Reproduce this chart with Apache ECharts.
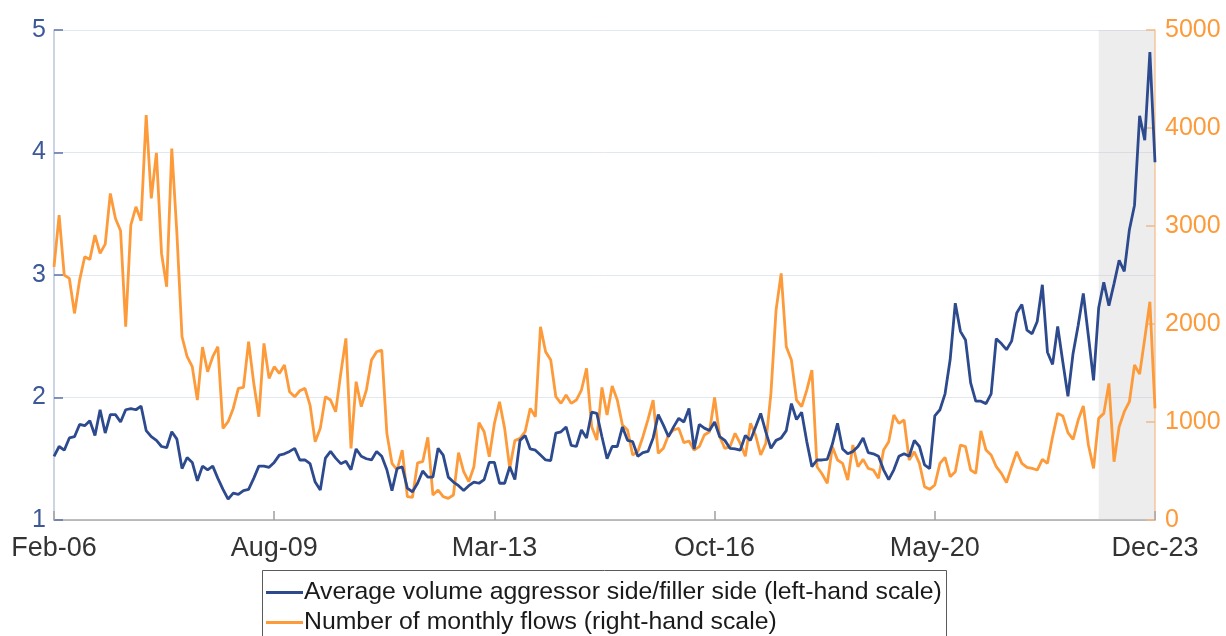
<!DOCTYPE html>
<html>
<head>
<meta charset="utf-8">
<script src="https://cdn.jsdelivr.net/npm/echarts@6/dist/echarts.min.js"></script>
<style>
  html, body { margin: 0; padding: 0; background: #ffffff; }
  #chart { width: 1226px; height: 636px; }
</style>
</head>
<body>
<div id="chart"></div>
<script>
// Monthly observations, Jan 2006 - Dec 2023
const monthNames = ['Jan','Feb','Mar','Apr','May','Jun','Jul','Aug','Sep','Oct','Nov','Dec'];
const months = [];
for (let y = 2006; y <= 2023; y++) {
  for (let m = 0; m < 12; m++) {
    months.push(monthNames[m] + '-' + String(y % 100).padStart(2, '0'));
  }
}

// Tick labels drawn along the x axis, one every 43 months
const tickLabels = ['Feb-06', 'Aug-09', 'Mar-13', 'Oct-16', 'May-20', 'Dec-23'];
const tickStep = 43;

// Average volume aggressor side / filler side (left-hand scale)
const volumeRatio = [
  1.52, 1.60, 1.57, 1.67, 1.68, 1.78, 1.77, 1.81, 1.69, 1.90,
  1.71, 1.86, 1.86, 1.80, 1.90, 1.91, 1.90, 1.93, 1.73, 1.68,
  1.65, 1.60, 1.59, 1.72, 1.66, 1.42, 1.51, 1.47, 1.32, 1.44,
  1.41, 1.44, 1.34, 1.25, 1.17, 1.22, 1.21, 1.24, 1.25, 1.34,
  1.44, 1.44, 1.43, 1.47, 1.53, 1.54, 1.56, 1.585, 1.49, 1.49,
  1.46, 1.31, 1.245, 1.505, 1.56, 1.505, 1.46, 1.48, 1.41, 1.58,
  1.52, 1.50, 1.49, 1.56, 1.52, 1.41, 1.24, 1.42, 1.435, 1.26,
  1.23, 1.30, 1.40, 1.35, 1.35, 1.585, 1.53, 1.35, 1.31, 1.28,
  1.24, 1.28, 1.31, 1.30, 1.33, 1.47, 1.47, 1.30, 1.30, 1.435,
  1.33, 1.65, 1.69, 1.58, 1.57, 1.53, 1.49, 1.485, 1.71, 1.72,
  1.76, 1.61, 1.60, 1.735, 1.67, 1.88, 1.87, 1.68, 1.50, 1.60,
  1.60, 1.76, 1.65, 1.64, 1.52, 1.55, 1.56, 1.67, 1.86, 1.775,
  1.68, 1.76, 1.83, 1.80, 1.91, 1.58, 1.78, 1.75, 1.73, 1.80,
  1.68, 1.65, 1.585, 1.58, 1.57, 1.69, 1.65, 1.76, 1.87, 1.72,
  1.585, 1.65, 1.67, 1.73, 1.95, 1.82, 1.88, 1.64, 1.435, 1.49,
  1.49, 1.495, 1.62, 1.79, 1.58, 1.54, 1.56, 1.60, 1.67, 1.55,
  1.54, 1.52, 1.41, 1.33, 1.41, 1.52, 1.54, 1.52, 1.65, 1.60,
  1.45, 1.42, 1.85, 1.90, 2.03, 2.31, 2.77, 2.54, 2.47, 2.12,
  1.97, 1.97, 1.95, 2.03, 2.48, 2.44, 2.39, 2.46, 2.69, 2.76,
  2.55, 2.52, 2.62, 2.92, 2.37, 2.27, 2.58, 2.29, 2.01, 2.36,
  2.59, 2.85, 2.50, 2.14, 2.73, 2.94, 2.75, 2.93, 3.12, 3.03,
  3.37, 3.57, 4.30, 4.10, 4.82, 3.92
];

// Number of monthly flows (right-hand scale)
const monthlyFlows = [
  2584, 3111, 2499, 2465, 2108, 2448, 2686, 2659, 2907, 2720,
  2815, 3332, 3077, 2951, 1972, 3009, 3196, 3053, 4131, 3281,
  3747, 2720, 2380, 3791, 2924, 1870, 1666, 1564, 1224, 1765,
  1513, 1666, 1768, 935, 1003, 1139, 1343, 1353, 1819, 1400,
  1054, 1802, 1445, 1564, 1496, 1581, 1309, 1258, 1319, 1343,
  1173, 799, 935, 1258, 1224, 1105, 1496, 1853, 731, 1411,
  1156, 1326, 1632, 1717, 1734, 884, 578, 510, 714, 238,
  231, 584, 595, 843, 255, 306, 238, 221, 255, 687,
  493, 391, 544, 993, 901, 646, 986, 1207, 935, 527,
  810, 833, 901, 1139, 1054, 1972, 1717, 1632, 1258, 1190,
  1275, 1190, 1224, 1326, 1547, 952, 816, 1353, 1071, 1367,
  1224, 969, 918, 663, 697, 850, 1027, 1224, 680, 731,
  867, 920, 935, 789, 806, 714, 748, 867, 901, 1250,
  850, 731, 748, 884, 782, 650, 986, 867, 663, 782,
  1292, 2142, 2516, 1768, 1632, 1224, 1156, 1326, 1530, 544,
  469, 374, 748, 612, 578, 408, 765, 544, 619, 527,
  510, 425, 714, 799, 1071, 986, 1020, 612, 697, 578,
  340, 313, 357, 578, 639, 442, 493, 765, 748, 510,
  476, 910, 714, 663, 544, 476, 381, 544, 697, 578,
  537, 527, 510, 619, 578, 850, 1088, 1061, 891, 823,
  1020, 1163, 765, 527, 1037, 1088, 1394, 595, 952, 1105,
  1207, 1581, 1489, 1853, 2227, 1139
];

// Shaded period
const shadeStart = 'Jan-23';
const shadeEnd = 'Dec-23';

const seriesNames = [
  'Average volume aggressor side/filler side (left-hand scale)',
  'Number of monthly flows (right-hand scale)'
];

const BLUE = '#2c4a8d';
const ORANGE = '#fd9a3a';
const FONT = 'Liberation Sans, Arial, sans-serif';

const chart = echarts.init(document.getElementById('chart'), null, { renderer: 'canvas' });

const showTick = (idx) => idx % tickStep === 0;

// one legend block per row so the rows stack inside a single framed box
const legendRow = (name, top) => ({
  data: [name],
  orient: 'horizontal',
  left: 266,
  top: top,
  padding: 0,
  itemWidth: 37,
  itemHeight: 3,
  icon: 'rect',
  textStyle: { fontFamily: FONT, fontSize: 24.8, color: '#1a1a1a', padding: [0, 0, 0, -4] }
});

chart.setOption({
  animation: false,
  backgroundColor: '#ffffff',
  textStyle: { fontFamily: FONT },
  grid: { left: 54, right: 71, top: 30, bottom: 116, containLabel: false },
  legend: [
    legendRow(seriesNames[0], 580),
    legendRow(seriesNames[1], 610)
  ],
  graphic: [
    {
      type: 'rect',
      silent: true,
      shape: { x: 262.5, y: 570.5, width: 684, height: 90 },
      style: { fill: 'none', stroke: '#5a5a5a', lineWidth: 1 }
    }
  ],
  xAxis: {
    type: 'category',
    data: months,
    boundaryGap: false,
    axisLine: { show: true, lineStyle: { color: '#a9a9a9', width: 1.5 } },
    axisTick: { show: true, inside: true, length: 9, interval: (idx) => showTick(idx), lineStyle: { color: '#a0a0a0', width: 1.5 } },
    axisLabel: {
      interval: (idx) => showTick(idx),
      formatter: (value, idx) => tickLabels[Math.round(idx / tickStep)],
      fontFamily: FONT, fontSize: 27, color: '#333333', margin: 15
    },
    splitLine: { show: false }
  },
  yAxis: [
    {
      type: 'value',
      min: 1, max: 5, interval: 1,
      position: 'left',
      axisLine: { show: true, lineStyle: { color: '#bcc6de', width: 1.5 } },
      axisTick: { show: true, inside: true, length: 9, lineStyle: { color: '#5b73a8', width: 1.5 } },
      axisLabel: { fontFamily: FONT, fontSize: 25, color: '#3d5897', margin: 8 },
      splitLine: { show: true, lineStyle: { color: '#e3e7f0', width: 1 } }
    },
    {
      type: 'value',
      min: 0, max: 5000, interval: 1000,
      position: 'right',
      axisLine: { show: true, lineStyle: { color: '#fcc896', width: 1.5 } },
      axisTick: { show: true, inside: true, length: 9, lineStyle: { color: '#fcb878', width: 1.5 } },
      axisLabel: { fontFamily: FONT, fontSize: 25, color: '#fd9a3a', margin: 10, formatter: (v) => String(v) },
      splitLine: { show: false }
    }
  ],
  series: [
    {
      name: seriesNames[0],
      type: 'line',
      yAxisIndex: 0,
      data: volumeRatio,
      symbol: 'none',
      lineStyle: { color: BLUE, width: 2.8 },
      itemStyle: { color: BLUE },
      z: 3
    },
    {
      name: seriesNames[1],
      type: 'line',
      yAxisIndex: 1,
      data: monthlyFlows,
      symbol: 'none',
      lineStyle: { color: ORANGE, width: 2.8 },
      itemStyle: { color: ORANGE },
      z: 2
    },
    {
      // translucent band laid over the lines for the shaded period
      type: 'line',
      yAxisIndex: 0,
      data: [],
      symbol: 'none',
      silent: true,
      z: 10,
      markArea: {
        silent: true,
        itemStyle: { color: 'rgba(196,196,196,0.3)' },
        data: [[{ xAxis: shadeStart }, { xAxis: shadeEnd }]]
      }
    }
  ]
});
</script>
</body>
</html>
